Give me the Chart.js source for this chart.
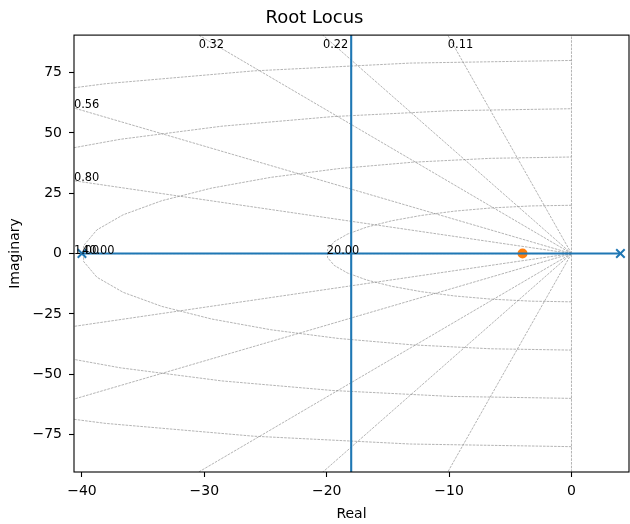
<!DOCTYPE html>
<html>
<head>
<meta charset="utf-8">
<script src="https://cdn.jsdelivr.net/npm/chart.js@4"></script>
<style>
  body { margin: 0; background: #fff; }
</style>
</head>
<body>
<canvas id="rootLocus" width="630" height="524"></canvas>
<script>
// axis limits and ticks
const xLimits = [-40.65, 4.7];
const yLimits = [-90.5, 90.5];
const xTicks = [-40, -30, -20, -10, 0];
const yTicks = [-75, -50, -25, 0, 25, 50, 75];

// open loop poles (x markers)
const polesX = [-40, 4];
const polesY = [0, 0];

// locus branches: on the real axis, then the vertical asymptote at -18
const realLocusX = [-40, 4];
const realLocusY = [0, 0];
const vertLocusX = [-18, -18];
const vertLocusY = [-200, 200];

// orange marked point
const markX = [-4];
const markY = [0];

// damping ratio lines and natural frequency circles of the s-grid
const zetas = [0.111, 0.219, 0.319, 0.559, 0.803, 1.0];
const wns = [100, 80, 60, 40, 20];

const FONT = "DejaVu Sans";
const minus = (v) => (v < 0 ? "\u2212" + Math.abs(v) : String(v));
const toPts = (xs, ys) => xs.map((x, i) => ({ x: x, y: ys[i] }));

const sgrid = {
  id: "sgrid",
  beforeDatasetsDraw(chart) {
    const { ctx, chartArea, scales } = chart;
    const px = (v) => scales.x.getPixelForValue(v);
    const py = (v) => scales.y.getPixelForValue(v);
    ctx.save();
    ctx.beginPath();
    ctx.rect(chartArea.left, chartArea.top, chartArea.right - chartArea.left, chartArea.bottom - chartArea.top);
    ctx.clip();
    ctx.strokeStyle = "rgba(128,128,128,0.85)";
    ctx.lineWidth = 0.7;
    ctx.setLineDash([2.6, 1.1]);
    const xEnd = -50;
    zetas.forEach((z) => {
      const slope = Math.tan(Math.PI / 2 + Math.asin(z));
      [1, -1].forEach((s) => {
        ctx.beginPath();
        ctx.moveTo(px(0), py(0));
        ctx.lineTo(px(xEnd), py(s * slope * xEnd));
        ctx.stroke();
      });
    });
    ctx.beginPath();
    ctx.moveTo(px(0), py(yLimits[0]));
    ctx.lineTo(px(0), py(yLimits[1]));
    ctx.stroke();
    wns.forEach((r) => {
      ctx.beginPath();
      for (let i = 0; i < 20; i++) {
        const a = ((-90 + (180 * i) / 19) * Math.PI) / 180;
        const x = px(-Math.cos(a) * r);
        const y = py(Math.sin(a) * r);
        if (i === 0) ctx.moveTo(x, y);
        else ctx.lineTo(x, y);
      }
      ctx.stroke();
    });
    ctx.restore();
  },
  afterDatasetsDraw(chart) {
    const { ctx, scales } = chart;
    const px = (v) => scales.x.getPixelForValue(v);
    const py = (v) => scales.y.getPixelForValue(v);
    ctx.save();
    ctx.fillStyle = "#000";
    ctx.font = "11.4px '" + FONT + "'";
    ctx.textAlign = "left";
    ctx.textBaseline = "alphabetic";
    const yTextLim = yLimits[1] - (yLimits[1] - yLimits[0]) * 0.03;
    const xTextLim = xLimits[0];
    zetas.forEach((z) => {
      const slope = Math.tan(Math.PI / 2 + Math.asin(z));
      let xt = (1 / slope) * yLimits[1];
      let yt = slope * xTextLim;
      if (Math.abs(xt) > Math.abs(xTextLim)) xt = xTextLim;
      else yt = yTextLim;
      ctx.fillText(z.toFixed(2), px(xt), py(yt));
    });
    wns.forEach((r) => {
      if (-r >= xLimits[0]) ctx.fillText(r.toFixed(2), px(-r), py(0));
    });
    ctx.restore();
  },
  afterDraw(chart) {
    const { ctx, chartArea } = chart;
    ctx.save();
    ctx.strokeStyle = "#000";
    ctx.lineWidth = 1.1;
    ctx.strokeRect(chartArea.left, chartArea.top, chartArea.right - chartArea.left, chartArea.bottom - chartArea.top);
    ctx.restore();
  },
};

const blue = "#1f77b4";
const orange = "#ff7f0e";

const rootChart = new Chart(document.getElementById("rootLocus"), {
  type: "scatter",
  data: {
    datasets: [
      {
        label: "real axis",
        data: toPts(realLocusX, realLocusY),
        showLine: true,
        borderColor: blue,
        borderWidth: 2.1,
        pointRadius: 0,
      },
      {
        label: "asymptote",
        data: toPts(vertLocusX, vertLocusY),
        showLine: true,
        borderColor: blue,
        borderWidth: 2.1,
        pointRadius: 0,
      },
      {
        label: "poles",
        data: toPts(polesX, polesY),
        pointStyle: "crossRot",
        pointRadius: 6,
        borderColor: blue,
        borderWidth: 2,
      },
      {
        label: "mark",
        data: toPts(markX, markY),
        pointStyle: "circle",
        pointRadius: 5,
        backgroundColor: orange,
        borderColor: orange,
        borderWidth: 0,
      },
    ],
  },
  options: {
    responsive: false,
    animation: false,
    layout: { autoPadding: false, padding: { left: 0, right: 1, top: 0, bottom: 0 } },
    plugins: {
      legend: { display: false },
      tooltip: { enabled: false },
      title: {
        display: true,
        text: "Root Locus",
        color: "#000",
        font: { family: FONT, size: 18, weight: "normal" },
        padding: { top: 7.5, bottom: 6 },
      },
    },
    scales: {
      x: {
        type: "linear",
        min: xLimits[0],
        max: xLimits[1],
        afterBuildTicks: (scale) => {
          scale.ticks = xTicks.map((v) => ({ value: v }));
        },
        afterFit: (scale) => {
          scale.height = 52;
        },
        border: { display: false },
        grid: { drawOnChartArea: false, drawTicks: true, tickLength: 5, tickColor: "#000", tickWidth: 1.1 },
        ticks: {
          color: "#000",
          padding: 6,
          maxRotation: 0,
          font: { family: FONT, size: 14 },
          callback: (v) => minus(v),
        },
        title: {
          display: true,
          text: "Real",
          color: "#000",
          font: { family: FONT, size: 14 },
          padding: { top: 0, bottom: 1.6 },
        },
      },
      y: {
        type: "linear",
        min: yLimits[0],
        max: yLimits[1],
        afterBuildTicks: (scale) => {
          scale.ticks = yTicks.map((v) => ({ value: v }));
        },
        afterFit: (scale) => {
          scale.width = 74;
        },
        border: { display: false },
        grid: { drawOnChartArea: false, drawTicks: true, tickLength: 5, tickColor: "#000", tickWidth: 1.1 },
        ticks: {
          color: "#000",
          padding: 7,
          font: { family: FONT, size: 14 },
          callback: (v) => minus(v),
        },
        title: {
          display: true,
          text: "Imaginary",
          color: "#000",
          font: { family: FONT, size: 14 },
          padding: { top: 6.6, bottom: 0 },
        },
      },
    },
  },
  plugins: [sgrid],
});
</script>
</body>
</html>
